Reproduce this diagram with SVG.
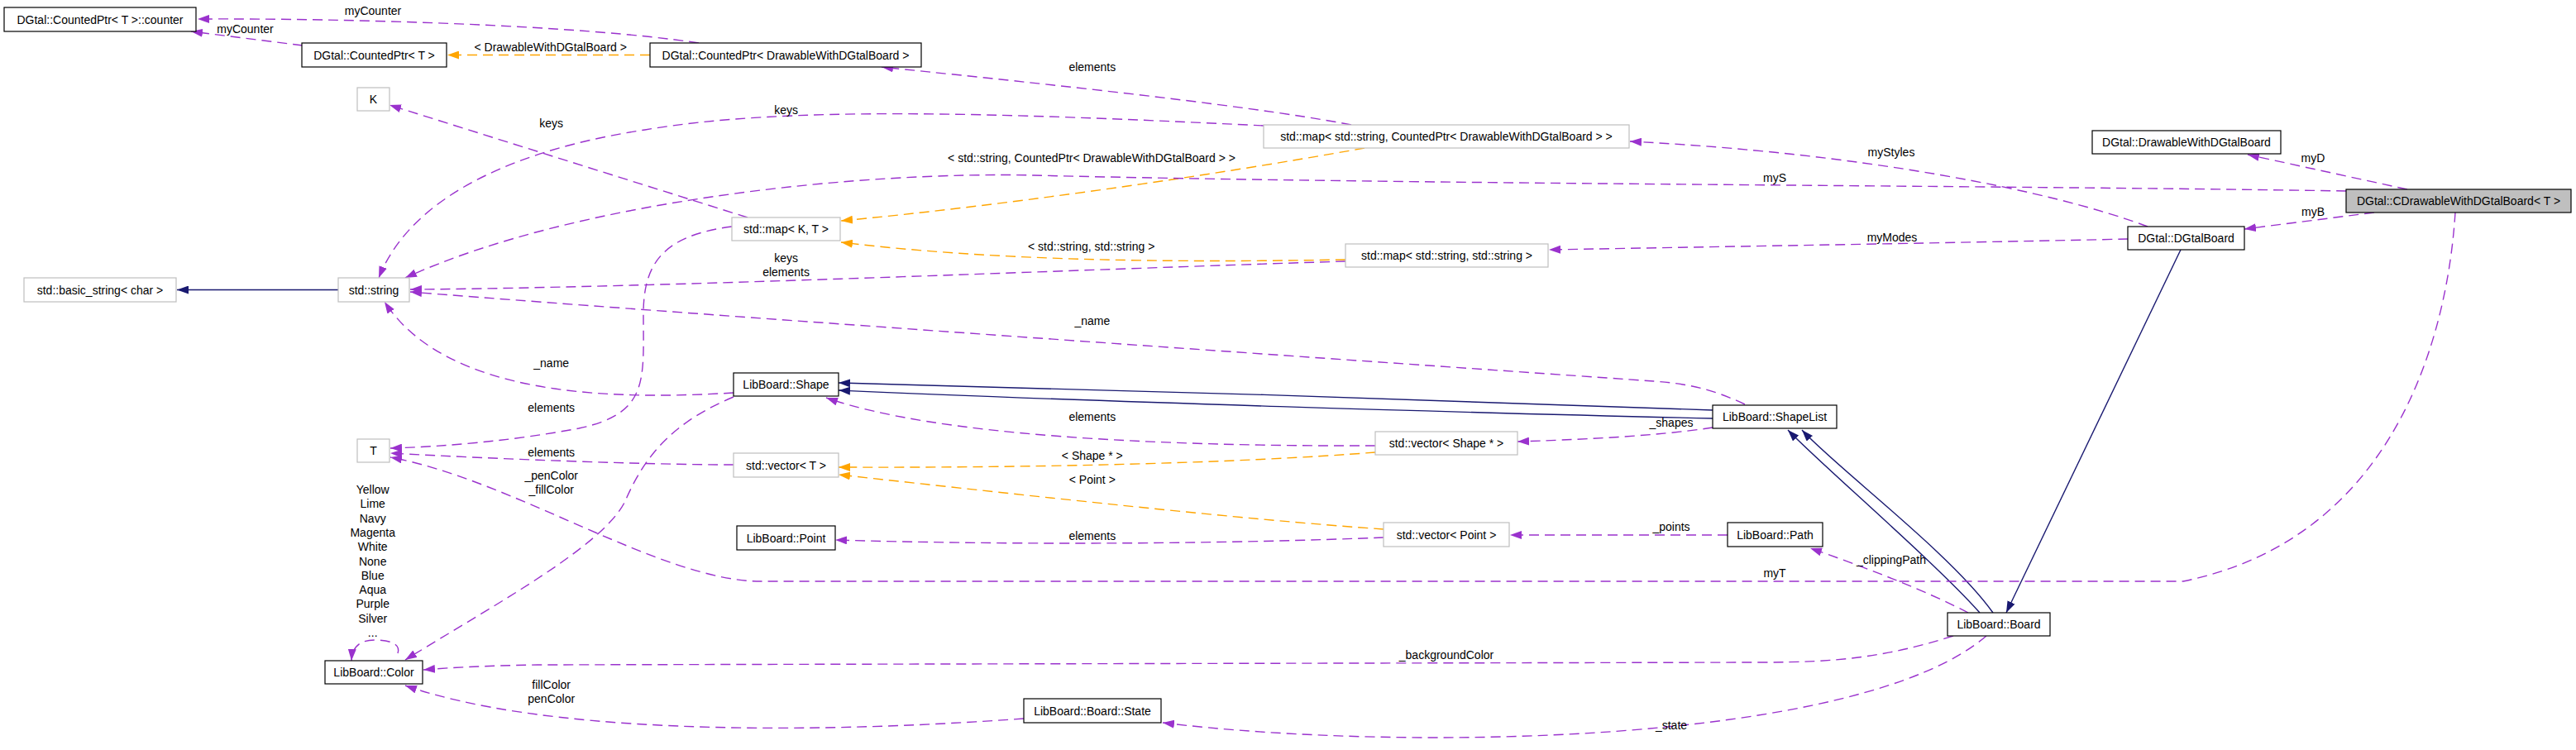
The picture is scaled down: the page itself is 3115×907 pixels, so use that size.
<svg xmlns="http://www.w3.org/2000/svg" width="3115" height="907" viewBox="0 0 3115 907">
<style>
text{font-family:"Liberation Sans",Arial,sans-serif;font-size:14px;fill:#000;text-anchor:middle}
.n rect{fill:#fff;stroke:#000;stroke-width:1.2}
.g rect{fill:#fff;stroke:#bfbfbf;stroke-width:1.2}
.cur rect{fill:#bfbfbf;stroke:#000;stroke-width:1.2}
.e path{fill:none;stroke-width:1.4}
.p{stroke:#9a32cd;stroke-dasharray:12,7}
.o{stroke:#ffa500;stroke-dasharray:12,7}
.b{stroke:#191970}
</style>
<defs>
<marker id="ap" markerUnits="userSpaceOnUse" markerWidth="14" markerHeight="10" viewBox="0 0 14 10" refX="14" refY="5" orient="auto"><path d="M0,0 L14,5 L0,10 z" fill="#9a32cd"/></marker>
<marker id="ao" markerUnits="userSpaceOnUse" markerWidth="14" markerHeight="10" viewBox="0 0 14 10" refX="14" refY="5" orient="auto"><path d="M0,0 L14,5 L0,10 z" fill="#ffa500"/></marker>
<marker id="ab" markerUnits="userSpaceOnUse" markerWidth="14" markerHeight="10" viewBox="0 0 14 10" refX="14" refY="5" orient="auto"><path d="M0,0 L14,5 L0,10 z" fill="#191970"/></marker>
</defs>
<rect width="3115" height="907" fill="#fff"/>
<g id="connectors" class="e">
<path class="p" marker-end="url(#ap)" d="M366,55 L231,38"/>
<path class="p" marker-end="url(#ap)" d="M845,52 C700,30 420,22 239,23"/>
<path class="o" marker-end="url(#ao)" d="M786,66.5 L541,66.5"/>
<path class="p" marker-end="url(#ap)" d="M1634,151 C1500,125 1200,95 1066,81"/>
<path class="p" marker-end="url(#ap)" d="M1528,152 C1200,136 950,128 780,157 C640,178 500,230 458,336"/>
<path class="p" marker-end="url(#ap)" d="M904,263 L471,127"/>
<path class="o" marker-end="url(#ao)" d="M1650,179 C1450,215 1200,250 1017,267"/>
<path class="p" marker-end="url(#ap)" d="M2837,231 C2400,224 1700,223 1250,212 C1050,207 700,240 490,336"/>
<path class="p" marker-end="url(#ap)" d="M2597,274 C2480,230 2250,185 1971,171"/>
<path class="p" marker-end="url(#ap)" d="M2911,229 L2718,187"/>
<path class="p" marker-end="url(#ap)" d="M2871,257 L2714,277"/>
<path class="p" marker-end="url(#ap)" d="M2573,289 C2400,293 2100,298 1873,302"/>
<path class="p" marker-end="url(#ap)" d="M1627,316 C1300,326 800,348 496,350"/>
<path class="o" marker-end="url(#ao)" d="M1627,314 C1400,318 1200,315 1017,293"/>
<path class="b" marker-end="url(#ab)" d="M409,350.5 L214,350.5"/>
<path class="b" marker-end="url(#ab)" d="M2637,302 L2426,741"/>
<path class="b" marker-end="url(#ab)" d="M2394,741 C2340,680 2200,560 2162,520"/>
<path class="b" marker-end="url(#ab)" d="M2410,741 C2360,670 2220,565 2179,520"/>
<path class="b" marker-end="url(#ab)" d="M2071,496 C1800,485 1300,470 1014,463"/>
<path class="b" marker-end="url(#ab)" d="M2071,506 C1800,500 1300,485 1014,472"/>
<path class="p" marker-end="url(#ap)" d="M2110,489 C2070,470 2040,464 2000,461 C1700,440 900,385 496,353"/>
<path class="p" marker-end="url(#ap)" d="M887,475 C740,484 540,480 465,365"/>
<path class="p" marker-end="url(#ap)" d="M885,274 C800,285 778,320 778,380 C778,460 785,500 700,518 C620,533 540,540 472,542"/>
<path class="p" marker-end="url(#ap)" d="M887,562 C780,562 600,555 472,548"/>
<path class="p" marker-end="url(#ap)" d="M887,480 C815,510 780,550 756,606 C730,660 600,730 490,798"/>
<path class="p" marker-end="url(#ap)" d="M1238,869 C950,890 650,885 490,829"/>
<path class="p" marker-end="url(#ap)" d="M2362,769 C2280,795 2220,801 2130,801 L650,804 C590,805 550,807 512,810"/>
<path class="p" marker-end="url(#ap)" d="M2402,769 C2250,900 1700,910 1406,874"/>
<path class="p" marker-end="url(#ap)" d="M2380,741 C2330,715 2256,686 2189,663"/>
<path class="p" marker-end="url(#ap)" d="M2089,647 L1826,647"/>
<path class="p" marker-end="url(#ap)" d="M1673,650 C1500,657 1250,660 1010,653"/>
<path class="o" marker-end="url(#ao)" d="M1673,640 C1500,628 1250,600 1014,574"/>
<path class="o" marker-end="url(#ao)" d="M1663,547 C1500,560 1250,566 1014,565"/>
<path class="p" marker-end="url(#ap)" d="M1663,539 C1400,540 1130,527 999,481"/>
<path class="p" marker-end="url(#ap)" d="M2071,517 C2000,528 1900,532 1835,534"/>
<path class="p" marker-end="url(#ap)" d="M2969,257 C2960,400 2900,650 2640,703 L920,703 C800,703 620,580 472,553"/>
<path class="p" marker-end="url(#ap)" d="M481,790 C485,778 470,774 453,774 C435,774 426,782 425,799"/>
</g>
<g id="edge-labels">
<text x="296.5" y="39.7">myCounter</text>
<text x="451" y="17.7">myCounter</text>
<text x="665.7" y="61.7">&lt; DrawableWithDGtalBoard &gt;</text>
<text x="1320.8" y="85.7">elements</text>
<text x="666.7" y="154">keys</text>
<text x="950.6" y="137.7">keys</text>
<text x="1320" y="195.7">&lt; std::string, CountedPtr&lt; DrawableWithDGtalBoard &gt; &gt;</text>
<text x="2146" y="220">myS</text>
<text x="2287" y="188.7">myStyles</text>
<text x="2797" y="196">myD</text>
<text x="2797" y="261">myB</text>
<text x="1319.7" y="302.7">&lt; std::string, std::string &gt;</text>
<text x="2288" y="291.7">myModes</text>
<text x="950.6" y="317">keys</text>
<text x="950.6" y="333.7">elements</text>
<text x="666.7" y="444">_name</text>
<text x="1320.8" y="393">_name</text>
<text x="666.7" y="497.7">elements</text>
<text x="1320.8" y="508.7">elements</text>
<text x="2021" y="516.3">_shapes</text>
<text x="666.7" y="551.7">elements</text>
<text x="1320.8" y="556.3">&lt; Shape * &gt;</text>
<text x="666.7" y="579.7">_penColor</text>
<text x="666.7" y="596.7">_fillColor</text>
<text x="1320.8" y="584.7">&lt; Point &gt;</text>
<text x="1320.8" y="653">elements</text>
<text x="2021" y="642">_points</text>
<text x="2287" y="682">_clippingPath</text>
<text x="2146" y="698.3">myT</text>
<text x="1749" y="796.7">_backgroundColor</text>
<text x="2021" y="882">_state</text>
<text x="666.7" y="832.7">fillColor</text>
<text x="666.7" y="849.7">penColor</text>
<text x="450.7" y="596.7">Yellow</text>
<text x="450.7" y="614">Lime</text>
<text x="450.7" y="631.5">Navy</text>
<text x="450.7" y="648.7">Magenta</text>
<text x="450.7" y="666">White</text>
<text x="450.7" y="683.5">None</text>
<text x="450.7" y="700.5">Blue</text>
<text x="450.7" y="718">Aqua</text>
<text x="450.7" y="735.3">Purple</text>
<text x="450.7" y="752.7">Silver</text>
<text x="450.7" y="770">...</text>
</g>
<g id="n_counter" class="n"><rect x="5" y="9" width="232" height="29"/><text x="121" y="28.5">DGtal::CountedPtr&lt; T &gt;::counter</text></g>
<g id="n_cptrT" class="n"><rect x="365" y="52" width="175" height="29"/><text x="452.5" y="71.5">DGtal::CountedPtr&lt; T &gt;</text></g>
<g id="n_cptrD" class="n"><rect x="786" y="52" width="328" height="29"/><text x="950" y="71.5">DGtal::CountedPtr&lt; DrawableWithDGtalBoard &gt;</text></g>
<g id="n_K" class="g"><rect x="432" y="106" width="39" height="28"/><text x="451.5" y="125">K</text></g>
<g id="n_mapSC" class="g"><rect x="1528" y="151" width="442" height="28"/><text x="1749" y="170">std::map&lt; std::string, CountedPtr&lt; DrawableWithDGtalBoard &gt; &gt;</text></g>
<g id="n_mapKT" class="g"><rect x="885" y="263" width="131" height="28"/><text x="950.5" y="282">std::map&lt; K, T &gt;</text></g>
<g id="n_mapSS" class="g"><rect x="1627" y="295" width="245" height="28"/><text x="1749.5" y="314">std::map&lt; std::string, std::string &gt;</text></g>
<g id="n_drawable" class="n"><rect x="2530" y="158" width="228" height="28"/><text x="2644" y="177">DGtal::DrawableWithDGtalBoard</text></g>
<g id="n_cdraw" class="cur"><rect x="2837" y="229" width="272" height="28"/><text x="2973" y="248">DGtal::CDrawableWithDGtalBoard&lt; T &gt;</text></g>
<g id="n_dgtalboard" class="n"><rect x="2573" y="274" width="141" height="28"/><text x="2643.5" y="293">DGtal::DGtalBoard</text></g>
<g id="n_basic" class="g"><rect x="29" y="336" width="184" height="29"/><text x="121" y="355.5">std::basic_string&lt; char &gt;</text></g>
<g id="n_string" class="g"><rect x="409" y="336" width="86" height="29"/><text x="452" y="355.5">std::string</text></g>
<g id="n_T" class="g"><rect x="432" y="531" width="39" height="28"/><text x="451.5" y="550">T</text></g>
<g id="n_shape" class="n"><rect x="887" y="451" width="127" height="28"/><text x="950.5" y="470">LibBoard::Shape</text></g>
<g id="n_vecT" class="g"><rect x="887" y="548" width="127" height="29"/><text x="950.5" y="567.5">std::vector&lt; T &gt;</text></g>
<g id="n_shapelist" class="n"><rect x="2071" y="490" width="150" height="28"/><text x="2146" y="509">LibBoard::ShapeList</text></g>
<g id="n_vecShape" class="g"><rect x="1663" y="522" width="172" height="28"/><text x="1749" y="541">std::vector&lt; Shape * &gt;</text></g>
<g id="n_color" class="n"><rect x="393" y="799" width="118" height="28"/><text x="452" y="818">LibBoard::Color</text></g>
<g id="n_point" class="n"><rect x="891" y="636" width="119" height="29"/><text x="950.5" y="655.5">LibBoard::Point</text></g>
<g id="n_state" class="n"><rect x="1238" y="845" width="166" height="29"/><text x="1321" y="864.5">LibBoard::Board::State</text></g>
<g id="n_vecPoint" class="g"><rect x="1673" y="632" width="152" height="29"/><text x="1749" y="651.5">std::vector&lt; Point &gt;</text></g>
<g id="n_path" class="n"><rect x="2089" y="632" width="115" height="29"/><text x="2146.5" y="651.5">LibBoard::Path</text></g>
<g id="n_board" class="n"><rect x="2355" y="741" width="124" height="28"/><text x="2417" y="760">LibBoard::Board</text></g>
</svg>
